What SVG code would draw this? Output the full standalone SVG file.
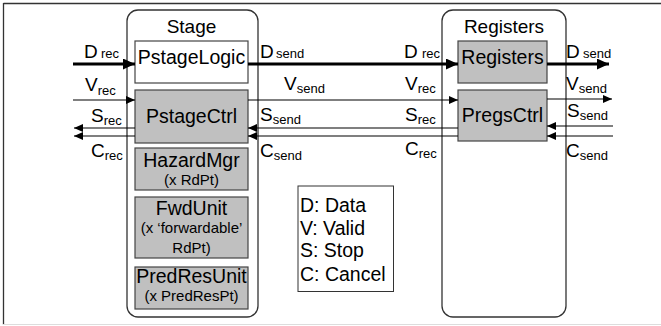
<svg xmlns="http://www.w3.org/2000/svg" width="661" height="326" viewBox="0 0 661 326">
<style>
text{font-family:"Liberation Sans",Arial,sans-serif;fill:#000}
.big{font-size:19.5px}
.ttl{font-size:19px}
.lbl{font-size:19px}
.leg{font-size:19.5px}
.sub{font-size:13px}
.small{font-size:15px}
.cont{fill:#fff;stroke:#333;stroke-width:1.3}
.box{stroke:#444;stroke-width:1.2}
.gray{fill:#c0c0c0}
.white{fill:#fff}
.thick{stroke:#000;stroke-width:3;fill:none}
.thin{stroke:#000;stroke-width:1.2;fill:none}
</style>
<defs>
<marker id="hb" markerUnits="userSpaceOnUse" markerWidth="13" markerHeight="11" refX="12" refY="5.5" orient="auto"><path d="M0,0 L12,5.5 L0,11 z" fill="#000"/></marker>
<marker id="hs" markerUnits="userSpaceOnUse" markerWidth="10" markerHeight="8" refX="9" refY="4" orient="auto"><path d="M0,0 L9,4 L0,8 z" fill="#000"/></marker>
</defs>
<rect width="661" height="326" fill="#fff"/>
<g id="frame">
<line x1="3.5" y1="3.5" x2="661" y2="3.5" stroke="#333" stroke-width="1.3"/>
<line x1="3.5" y1="3" x2="3.5" y2="324.5" stroke="#333" stroke-width="1.3"/>
<line x1="3" y1="324.5" x2="661" y2="324.5" stroke="#ddd" stroke-width="1"/>
</g>
<g id="stage">
<rect class="cont" x="127" y="10" width="131" height="307" rx="11"/>
<text class="ttl" x="191.5" y="33" text-anchor="middle">Stage</text>
</g>
<g id="registersContainer">
<rect class="cont" x="442" y="10" width="124" height="307" rx="11"/>
<text class="ttl" x="504" y="33" text-anchor="middle">Registers</text>
</g>
<g id="pstageLogic">
<rect class="box white" x="135" y="41" width="113" height="42"/>
<text class="big" x="191.5" y="64" text-anchor="middle">PstageLogic</text>
</g>
<g id="pstageCtrl">
<rect class="box gray" x="135" y="90" width="113" height="53"/>
<text class="big" x="191.5" y="123" text-anchor="middle">PstageCtrl</text>
</g>
<g id="hazardMgr">
<rect class="box gray" x="135" y="148" width="113" height="42"/>
<text class="big" x="191.5" y="167" text-anchor="middle">HazardMgr</text>
<text class="small" x="191.5" y="185" text-anchor="middle">(x RdPt)</text>
</g>
<g id="fwdUnit">
<rect class="box gray" x="135" y="197" width="113" height="61"/>
<text class="big" x="191.5" y="215" text-anchor="middle">FwdUnit</text>
<text class="small" x="191.5" y="233" text-anchor="middle">(x ‘forwardable’</text>
<text class="small" x="191.5" y="253" text-anchor="middle">RdPt)</text>
</g>
<g id="predResUnit">
<rect class="box gray" x="135" y="267" width="113" height="42"/>
<text class="big" x="191.5" y="283" text-anchor="middle">PredResUnit</text>
<text class="small" x="191.5" y="301" text-anchor="middle">(x PredResPt)</text>
</g>
<g id="registers">
<rect class="box gray" x="458" y="41" width="89" height="42"/>
<text class="big" x="502.5" y="64" text-anchor="middle">Registers</text>
</g>
<g id="pregsCtrl">
<rect class="box gray" x="458" y="90" width="89" height="51"/>
<text class="big" x="502.5" y="122" text-anchor="middle">PregsCtrl</text>
</g>
<g id="legend">
<rect x="298" y="186" width="95.5" height="105.5" fill="#fff" stroke="#333" stroke-width="1"/>
<text class="leg" x="300" y="212">D: Data</text>
<text class="leg" x="300" y="235">V: Valid</text>
<text class="leg" x="300" y="257">S: Stop</text>
<text class="leg" x="300" y="281">C: Cancel</text>
</g>
<g id="connectors">
<line class="thick" x1="73" y1="64" x2="135" y2="64" marker-end="url(#hb)"/>
<line class="thick" x1="248" y1="64" x2="458" y2="64" marker-end="url(#hb)"/>
<line class="thick" x1="547" y1="64" x2="609" y2="64" marker-end="url(#hb)"/>
<line class="thin" x1="73" y1="100" x2="135" y2="100" marker-end="url(#hs)"/>
<line class="thin" x1="248" y1="100" x2="458" y2="100" marker-end="url(#hs)"/>
<line class="thin" x1="547" y1="99" x2="612" y2="99" marker-end="url(#hs)"/>
<line class="thin" x1="135" y1="128" x2="74" y2="128" marker-end="url(#hs)"/>
<line class="thin" x1="135" y1="136" x2="74" y2="136" marker-end="url(#hs)"/>
<line class="thin" x1="458" y1="128" x2="248" y2="128" marker-end="url(#hs)"/>
<line class="thin" x1="458" y1="136" x2="248" y2="136" marker-end="url(#hs)"/>
<line class="thin" x1="613" y1="126" x2="547" y2="126" marker-end="url(#hs)"/>
<line class="thin" x1="613" y1="136" x2="547" y2="136" marker-end="url(#hs)"/>
</g>
<g id="labels">
<text class="lbl" x="84" y="58">D<tspan class="sub" x="101">rec</tspan></text>
<text class="lbl" x="85" y="91">V<tspan class="sub" dy="4">rec</tspan></text>
<text class="lbl" x="91" y="122">S<tspan class="sub" dy="3">rec</tspan></text>
<text class="lbl" x="91" y="157">C<tspan class="sub" dy="3">rec</tspan></text>
<text class="lbl" x="260" y="58">D<tspan class="sub" x="276">send</tspan></text>
<text class="lbl" x="284" y="90">V<tspan class="sub" dy="3">send</tspan></text>
<text class="lbl" x="260" y="121">S<tspan class="sub" dy="3">send</tspan></text>
<text class="lbl" x="260" y="157">C<tspan class="sub" dy="3">send</tspan></text>
<text class="lbl" x="404" y="58">D<tspan class="sub" x="422">rec</tspan></text>
<text class="lbl" x="405" y="90">V<tspan class="sub" dy="3">rec</tspan></text>
<text class="lbl" x="405" y="121">S<tspan class="sub" dy="3">rec</tspan></text>
<text class="lbl" x="405" y="155">C<tspan class="sub" dy="3">rec</tspan></text>
<text class="lbl" x="566" y="58">D<tspan class="sub" x="583">send</tspan></text>
<text class="lbl" x="566" y="90">V<tspan class="sub" dy="3">send</tspan></text>
<text class="lbl" x="567" y="117">S<tspan class="sub" dy="3">send</tspan></text>
<text class="lbl" x="566" y="157">C<tspan class="sub" dy="3">send</tspan></text>
</g>
</svg>
